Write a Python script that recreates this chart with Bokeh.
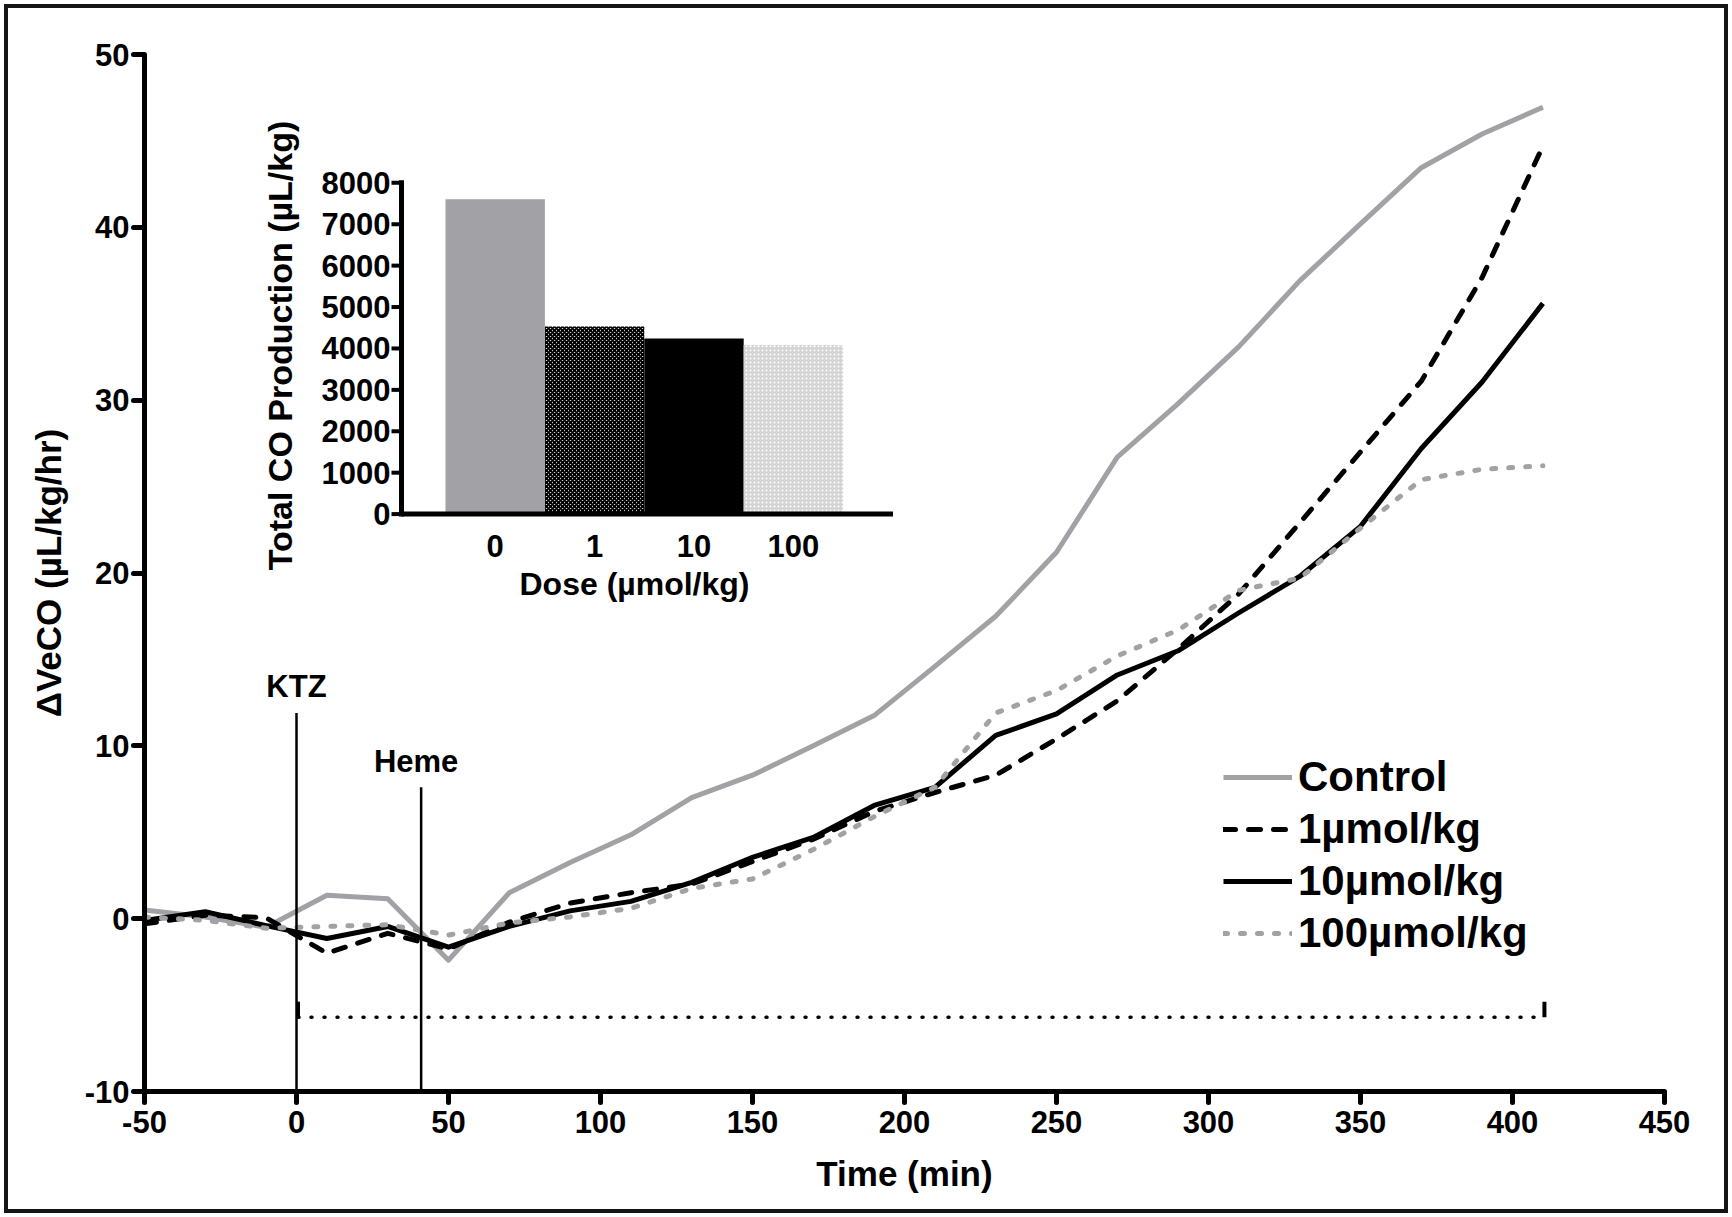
import math
from bokeh.plotting import figure
from bokeh.layouts import column
from bokeh.models import Range1d, FixedTicker, Legend, LegendItem, ColumnDataSource
from bokeh.core.properties import value
from bokeh.embed import file_html
from bokeh.resources import INLINE

FONT = "Liberation Sans"

# ---------------- data ----------------
time_min = [-50, -30, -10, 10, 30, 50, 70, 90, 110, 130, 150, 170, 190, 210,
            230, 250, 270, 290, 310, 330, 350, 370, 390, 410]
control = [0.5, 0.1, -0.5, 1.35, 1.15, -2.4, 1.5, 3.25, 4.85, 7.0, 8.3, 10.0,
           11.75, 14.6, 17.5, 21.2, 26.7, 29.8, 33.1, 36.9, 40.2, 43.45, 45.4, 46.95]
dose_1 = [-0.3, 0.2, 0.05, -2.0, -0.85, -1.75, -0.2, 0.9, 1.5, 2.0, 3.3, 4.6,
          6.2, 7.3, 8.3, 10.4, 12.6, 15.6, 18.8, 22.9, 27.0, 31.1, 37.1, 44.7]
dose_10 = [-0.1, 0.4, -0.4, -1.15, -0.45, -1.65, -0.45, 0.45, 1.0, 2.1, 3.55, 4.7,
           6.55, 7.6, 10.6, 11.85, 14.1, 15.5, 17.7, 19.8, 22.7, 27.2, 31.05, 35.6]
dose_100 = [0.1, -0.1, -0.55, -0.45, -0.35, -0.95, -0.25, 0.1, 0.6, 1.75, 2.3, 4.0,
            5.9, 7.6, 11.9, 13.2, 15.2, 16.7, 19.0, 19.7, 22.6, 25.4, 26.0, 26.2]
series_labels = ["Control", "1µmol/kg", "10µmol/kg", "100µmol/kg"]

x_ticks = [-50, 0, 50, 100, 150, 200, 250, 300, 350, 400, 450]
y_ticks = [-10, 0, 10, 20, 30, 40, 50]

event_names = ["KTZ", "Heme"]
event_time = [0, 41]
event_top = [11.9, 7.6]

period_start, period_end, period_level = 0.5, 410.5, -5.7

# inset
doses = ["0", "1", "10", "100"]
total_co = [7600, 4530, 4240, 4080]
inset_ticks = [0, 1000, 2000, 3000, 4000, 5000, 6000, 7000, 8000]

# ---------------- figure ----------------
PAGE_W, PAGE_H = 1732, 1217
OFF = 8                       # 4px white margin + 4px frame border around the figure
W, H = PAGE_W - 2 * OFF, PAGE_H - 2 * OFF
ML, MR, MT, MB = 144 - OFF, 68 - OFF, 54 - OFF, 126 - OFF
p = figure(width=W, height=H, x_range=Range1d(-50, 450), y_range=Range1d(-10, 50),
           output_backend="svg", toolbar_location=None,
           min_border_left=ML, min_border_right=MR, min_border_top=MT, min_border_bottom=MB)
p.outline_line_color = None
p.xgrid.grid_line_color = None
p.ygrid.grid_line_color = None
p.background_fill_color = "white"
p.border_fill_color = "white"

p.xaxis.ticker = FixedTicker(ticks=x_ticks)
p.yaxis.ticker = FixedTicker(ticks=y_ticks)
p.xaxis.major_label_overrides = {t: str(t) for t in x_ticks}
p.yaxis.major_label_overrides = {t: str(t) for t in y_ticks}
p.xaxis.axis_label = "Time (min)"
p.yaxis.axis_label = "ΔVeCO (µL/kg/hr)"
for ax in (p.xaxis[0], p.yaxis[0]):
    ax.axis_line_width = 5
    ax.axis_line_color = "black"
    ax.major_tick_line_width = 5
    ax.major_tick_line_color = "black"
    ax.major_tick_line_cap = "round"
    ax.major_tick_out = 11
    ax.major_tick_in = 0
    ax.minor_tick_line_color = None
    ax.major_label_text_font = FONT
    ax.major_label_text_font_style = "bold"
    ax.major_label_text_font_size = "31px"
    ax.major_label_text_color = "black"
    ax.axis_label_text_font = FONT
    ax.axis_label_text_font_style = "bold"
    ax.axis_label_text_font_size = "35px"
    ax.axis_label_text_color = "black"
p.xaxis.major_label_standoff = 8
p.xaxis.axis_label_standoff = 18
p.yaxis.major_label_standoff = 4
p.yaxis.axis_label_standoff = 14

# frame geometry (pixels, figure coordinates) for the inset's own ranges
FL, FR, FT, FB = ML, W - MR, MT, H - MB
BAR0_LEFT_PX, BAR_W_PX = 445.0 - OFF, 99.4      # inset x: bar slot width
I_Y0_PX, I_Y8000_PX = 513.6 - OFF, 182.3 - OFF   # inset y: pixel of 0 and 8000
ppx = lambda px: (px - OFF - (BAR0_LEFT_PX - 0.5 * BAR_W_PX)) / BAR_W_PX   # page px -> inset x
kpy = (I_Y0_PX - I_Y8000_PX) / 8000.0
vpy = lambda py: (I_Y0_PX - (py - OFF)) / kpy                            # page px -> inset y
p.extra_x_ranges = {"ix": Range1d(ppx(FL + OFF), ppx(FR + OFF))}
p.extra_y_ranges = {"iy": Range1d(vpy(FB + OFF), vpy(FT + OFF))}

# ---------------- main lines ----------------
lw = 5
r_ctrl = p.line(time_min, control, line_color="#a2a2a6", line_width=lw, line_join="round")
r_d1 = p.line(time_min, dose_1, line_color="black", line_width=lw, line_dash="12 13",
              line_cap="round", line_join="round")
r_d10 = p.line(time_min, dose_10, line_color="black", line_width=lw, line_join="round")
r_d100 = p.line(time_min, dose_100, line_color="#a2a2a6", line_width=lw, line_dash="4 13",
                line_cap="round", line_join="round")

# event markers
p.segment(x0=event_time, y0=[-10] * len(event_time), x1=event_time, y1=event_top,
          line_color="black", line_width=2.5)
p.text(x=event_time, y=[t + 0.5 for t in event_top], text=event_names,
       x_offset=[0, -5],
       text_font=value(FONT), text_font_style="bold", text_font_size="31px",
       text_align="center", text_baseline="bottom", text_color="black")

# treatment period bar
p.line([period_start, period_end], [period_level, period_level], line_color="black",
       line_width=3.5, line_dash="1 12", line_cap="round")
p.segment(x0=[period_start, period_end], y0=[period_level, period_level],
          x1=[period_start, period_end], y1=[period_level + 0.9, period_level + 0.9],
          line_color="black", line_width=4)

# ---------------- legend ----------------
legend = Legend(items=[LegendItem(label=series_labels[0], renderers=[r_ctrl]),
                       LegendItem(label=series_labels[1], renderers=[r_d1]),
                       LegendItem(label=series_labels[2], renderers=[r_d10]),
                       LegendItem(label=series_labels[3], renderers=[r_d100])],
                location=(1079, 134), glyph_width=69, glyph_height=40, label_height=40,
                spacing=4, label_standoff=6, padding=0, margin=0,
                border_line_color=None, background_fill_alpha=0,
                label_text_font=FONT, label_text_font_style="bold",
                label_text_font_size="42px", label_text_color="black")
p.add_layout(legend)

# ---------------- inset bar chart ----------------
bar_pos = [i + 1 for i in range(len(doses))]
bar_fill = ["#a2a2a6", "white", "black", "#d4d4d4"]
bar_hatch = [" ", "diagonal_cross", " ", "dot"]
bar_hatch_color = ["black", "black", "black", "white"]
src = ColumnDataSource(dict(x=bar_pos, top=total_co, fill=bar_fill,
                            hatch=bar_hatch, hcol=bar_hatch_color))
p.vbar(x="x", top="top", bottom=0, width=1.0, source=src, fill_color="fill",
       hatch_pattern="hatch", hatch_color="hcol", hatch_scale=4, hatch_weight=2,
       line_color=None, x_range_name="ix", y_range_name="iy")

ax_p = ppx(401.0)
tick_len = 10.0 / BAR_W_PX
# axes
p.segment(x0=[ax_p, ax_p], y0=[-60, 0], x1=[ax_p, ppx(892.5)], y1=[inset_ticks[-1] + 60, 0],
          line_color="black", line_width=5, x_range_name="ix", y_range_name="iy")
p.segment(x0=[ax_p - tick_len] * len(inset_ticks), y0=inset_ticks,
          x1=[ax_p] * len(inset_ticks), y1=inset_ticks, line_color="black", line_width=4,
          x_range_name="ix", y_range_name="iy")
p.text(x=[ax_p - tick_len - 1.0 / BAR_W_PX] * len(inset_ticks), y=inset_ticks,
       text=[str(t) for t in inset_ticks], text_font=value(FONT), text_font_style="bold",
       text_font_size="31px", text_align="right", text_baseline="middle",
       text_color="black", x_range_name="ix", y_range_name="iy")
p.text(x=bar_pos, y=[vpy(545.0)] * len(doses), text=doses, text_font=value(FONT),
       text_font_style="bold", text_font_size="31px", text_align="center",
       text_baseline="middle", text_color="black", x_range_name="ix", y_range_name="iy")
p.text(x=[ppx(634.0)], y=[vpy(583.0)], text=["Dose (µmol/kg)"], text_font=value(FONT),
       text_font_style="bold", text_font_size="32px", text_align="center",
       text_baseline="middle", text_color="black", x_range_name="ix", y_range_name="iy")
p.text(x=[ppx(279.5)], y=[vpy(345.0)], text=["Total CO Production (µL/kg)"],
       angle=math.pi / 2, text_font=value(FONT), text_font_style="bold",
       text_font_size="34px", text_align="center", text_baseline="middle",
       text_color="black", x_range_name="ix", y_range_name="iy")

root = column(p, styles={"border": "4px solid #151515", "margin": "4px",
                         "box-sizing": "content-box", "background-color": "white"})

open("out.html", "w").write(file_html(root, INLINE))
